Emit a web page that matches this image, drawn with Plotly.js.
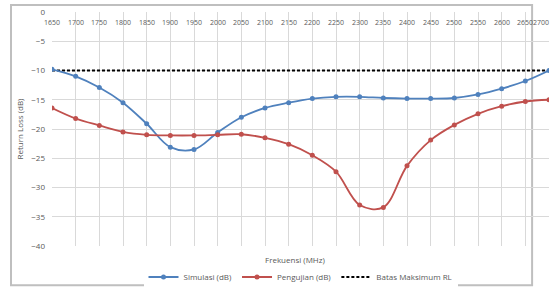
<!DOCTYPE html>
<html>
<head>
<meta charset="utf-8">
<script src="https://cdn.plot.ly/plotly-3.0.1.min.js"></script>
<style>html,body{margin:0;padding:0;background:#fff;}#chart{width:553px;height:287px;}</style>
</head>
<body>
<div id="chart"></div>
<script>
var freq = [1650,1700,1750,1800,1850,1900,1950,2000,2050,2100,2150,2200,2250,2300,2350,2400,2450,2500,2550,2600,2650,2700];
var simulasi = [-9.8,-11.0,-12.9,-15.5,-19.1,-23.1,-23.5,-20.6,-18.0,-16.4,-15.5,-14.8,-14.5,-14.5,-14.7,-14.8,-14.8,-14.7,-14.1,-13.1,-11.8,-10.0];
var pengujian = [-16.4,-18.2,-19.4,-20.5,-21.0,-21.1,-21.1,-21.0,-20.9,-21.5,-22.6,-24.5,-27.3,-33.0,-33.4,-26.3,-21.9,-19.3,-17.4,-16.1,-15.3,-15.0];
var batasRL = freq.map(function(){ return -10; });
var xTicks = [1650,1700,1750,1800,1850,1900,1950,2000,2050,2100,2150,2200,2250,2300,2350,2400,2450,2500,2550,2600,2650,2700];
var yTicks = [0,-5,-10,-15,-20,-25,-30,-35,-40];

var fam = "Open Sans, Noto Sans, sans-serif";
var font = {family: fam, size: 8, color: "#595959"};
var xTickFont = {family: fam, size: 7, color: "#595959"};

var traces = [
  {x: freq, y: batasRL, name: "Batas Maksimum RL", mode: "lines",
   line: {color: "#000000", width: 2, dash: "3px,2px"}, legendrank: 3},
  {x: freq, y: simulasi, name: "Simulasi (dB)", mode: "lines+markers",
   line: {color: "#4F81BD", width: 1.8, shape: "spline", smoothing: 1}, marker: {color: "#4F81BD", size: 5}, legendrank: 1},
  {x: freq, y: pengujian, name: "Pengujian (dB)", mode: "lines+markers",
   line: {color: "#C0504D", width: 1.8, shape: "spline", smoothing: 1}, marker: {color: "#C0504D", size: 5}, legendrank: 2}
];

var lastTick = xTicks[xTicks.length - 1];
var annotations = xTicks.map(function(v){
  return {text: String(v), xref: "x", yref: "paper", x: v, y: 0.985,
          xanchor: v === lastTick ? "right" : "center", xshift: v === lastTick ? 2 : 0, yanchor: "top",
          showarrow: false, font: xTickFont};
});
annotations.push({text: "Frekuensi (MHz)", xref: "paper", yref: "paper", x: 0.49, y: -0.025, xanchor: "center", yanchor: "top",
  showarrow: false, font: font});

var layout = {
  width: 553, height: 287,
  margin: {l: 52, r: 4, t: 12, b: 41, autoexpand: false},
  paper_bgcolor: "#ffffff", plot_bgcolor: "#ffffff",
  font: font,
  showlegend: true,
  legend: {orientation: "h", x: 0.5, xanchor: "center", y: -0.1325, yanchor: "middle",
           font: font, tracegroupgap: 0},
  xaxis: {range: [1650, 2700], tickvals: xTicks, showticklabels: false, showgrid: true, gridcolor: "#d9d9d9", gridwidth: 1,
          zeroline: false, showline: false, ticks: "", fixedrange: true},
  yaxis: {range: [-40, 0], tickvals: yTicks, showgrid: true, gridcolor: "#d9d9d9", gridwidth: 1,
          zeroline: false, showline: false, ticks: "", tickfont: font, ticklabelstandoff: 6,
          title: {text: "Return Loss (dB)", font: font, standoff: 6}},
  annotations: annotations,
  shapes: [
    {type: "rect", xref: "paper", yref: "paper", x0: -0.0825, x1: 0.966, y0: -0.168, y1: 1.03,
     line: {color: "#bfbfbf", width: 2}, fillcolor: "rgba(0,0,0,0)", layer: "below"}
  ]
};

Plotly.newPlot("chart", traces, layout, {staticPlot: true, displayModeBar: false});
</script>
</body>
</html>
